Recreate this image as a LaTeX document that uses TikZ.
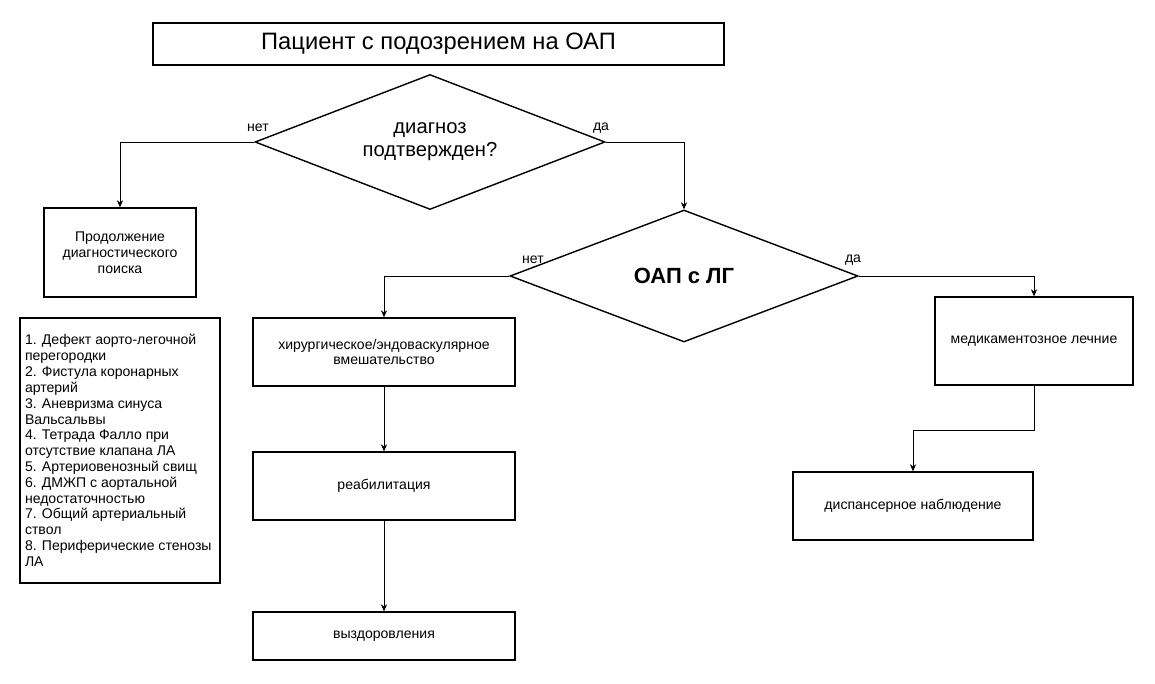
\documentclass[tikz,border=0pt]{standalone}
\usepackage{fontspec}
\setmainfont{Liberation Sans}
\usetikzlibrary{shapes.geometric,arrows.meta}
\tikzset{
  box/.style={draw, thick, fill=white, align=center, font=\fontsize{8}{9}\selectfont},
  arr/.style={-{Stealth[length=4pt,width=3.5pt]}},
  lbl/.style={font=\fontsize{8}{9}\selectfont},
}
\begin{document}
\begin{tikzpicture}[x=0.02cm,y=-0.02cm]
      \useasboundingbox (0,0) rectangle (1155,683);
      % boxes
      \node [box, minimum width=571*0.02cm, minimum height=42*0.02cm, font=\fontsize{13.5}{15}\selectfont] (patient) at (438.5,44) {Пациент с подозрением на ОАП};
      \node [draw, thick, diamond, aspect=2.6, minimum width=350*0.02cm, minimum height=135*0.02cm, inner sep=0pt, align=center, font=\fontsize{11.5}{13}\selectfont] (diag) at (430,142) {диагноз\\подтвержден?};
      \node [box, minimum width=152*0.02cm, minimum height=89*0.02cm] (search) at (120,252.5) {Продолжение\\диагностического\\поиска};
      \node [draw, thick, diamond, aspect=2.6, minimum width=348*0.02cm, minimum height=132*0.02cm, inner sep=0pt, font=\bfseries\fontsize{12.5}{14}\selectfont] (lg) at (684,276) {ОАП с ЛГ};
      \node [box, minimum width=262*0.02cm, minimum height=68*0.02cm] (surg) at (384,352) {хирургическое/эндоваскулярное\\вмешательство};
      \node [box, minimum width=198*0.02cm, minimum height=88*0.02cm] (med) at (1034,341) {медикаментозное лечние};
      \node [box, minimum width=262*0.02cm, minimum height=68*0.02cm] (rehab) at (384,486) {реабилитация};
      \node [box, minimum width=262*0.02cm, minimum height=48*0.02cm] (recov) at (384,636) {выздоровления};
      \node [box, minimum width=240*0.02cm, minimum height=68*0.02cm] (disp) at (913,506) {диспансерное наблюдение};
      \node [box, minimum width=200*0.02cm, minimum height=265*0.02cm, align=flush left, text width=190*0.02cm, inner sep=2pt] (list) at (120,450.5) {1. Дефект аорто-легочной перегородки\\2. Фистула коронарных артерий\\3. Аневризма синуса Вальсальвы\\4. Тетрада Фалло при отсутствие клапана ЛА\\5. Артериовенозный свищ\\6. ДМЖП с аортальной недостаточностью\\7. Общий артериальный ствол\\8. Периферические стенозы ЛА};
      % connectors
      \draw [arr] (diag.west) -| (search.north);
      \draw [arr] (diag.east) -| (lg.north);
      \draw [arr] (lg.west) -| (surg.north);
      \draw [arr] (lg.east) -| (med.north);
      \draw [arr] (surg) -- (rehab);
      \draw [arr] (rehab) -- (recov);
      \coordinate (bend) at (1034,430);
      \draw [arr] (med.south) -- (bend) -| (disp.north);
      % labels
      \node [lbl] (no1) at (258,128) {нет};
      \node [lbl] (yes1) at (601,128) {да};
      \node [lbl] (no2) at (533,260) {нет};
      \node [lbl] (yes2) at (853,260) {да};
\end{tikzpicture}
\end{document}
